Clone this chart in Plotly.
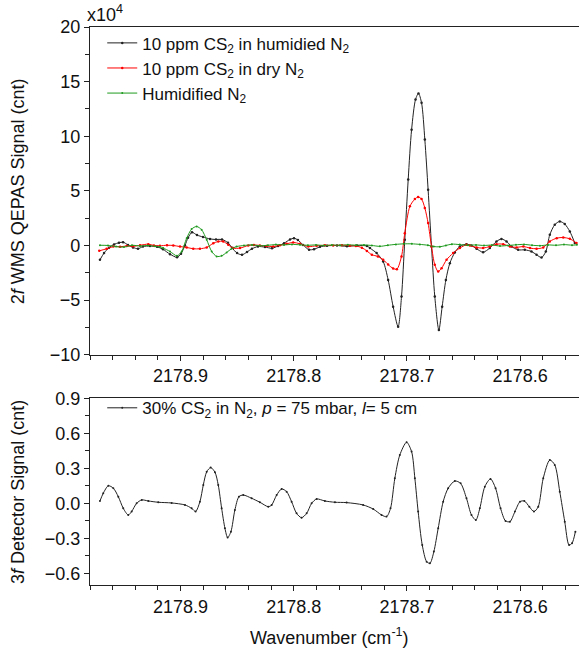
import plotly.graph_objects as go

# ---------------- data ----------------
# Top panel: 2f WMS QEPAS signal (x10^4 cnt)
wn_hum = [2178.9712, 2178.9676, 2178.9632, 2178.9588, 2178.9544, 2178.9508, 2178.9464, 2178.9420,
          2178.9376, 2178.9332, 2178.9270, 2178.9208, 2178.9155, 2178.9093, 2178.9031, 2178.8996,
          2178.8961, 2178.8934, 2178.8899, 2178.8855, 2178.8802, 2178.8740, 2178.8687, 2178.8634,
          2178.8581, 2178.8546, 2178.8501, 2178.8457, 2178.8413, 2178.8369, 2178.8316, 2178.8254,
          2178.8192, 2178.8139, 2178.8086, 2178.8033, 2178.7998, 2178.7963, 2178.7918, 2178.7865,
          2178.7821, 2178.7768, 2178.7706, 2178.7618, 2178.7530, 2178.7441, 2178.7353, 2178.7327,
          2178.7268, 2178.7210, 2178.7166, 2178.7122, 2178.7078, 2178.7048, 2178.7019, 2178.6989,
          2178.6959, 2178.6924, 2178.6898, 2178.6871, 2178.6842, 2178.6813, 2178.6783, 2178.6754,
          2178.6718, 2178.6689, 2178.6656, 2178.6621, 2178.6577, 2178.6533, 2178.6474, 2178.6430,
          2178.6385, 2178.6327, 2178.6268, 2178.6209, 2178.6165, 2178.6120, 2178.6076, 2178.6018,
          2178.5959, 2178.5900, 2178.5855, 2178.5811, 2178.5773, 2178.5738, 2178.5694, 2178.5650,
          2178.5606, 2178.5561, 2178.5517]
sig_hum = [-1.31, -0.70, -0.20, 0.10, 0.25, 0.30, 0.05, -0.18,
           -0.30, -0.10, -0.05, -0.12, -0.35, -0.80, -1.08, -0.75,
           0.00, 0.70, 1.20, 0.95, 0.78, 0.60, 0.55, 0.55,
           0.25, -0.20, -0.70, -0.85, -0.60, -0.30, -0.10, -0.15,
           -0.25, -0.05, 0.20, 0.55, 0.66, 0.50, 0.05, -0.38,
           -0.35, -0.12, -0.03, 0.00, -0.08, 0.00, -0.05, -0.24,
           -0.70, -1.47, -3.15, -5.60, -7.43, -4.68, 0.52, 6.03,
           10.60, 13.37, 13.92, 13.06, 9.70, 5.11, -0.09, -4.68,
           -7.73, -5.60, -3.15, -1.62, -0.64, -0.09, 0.12, 0.00,
           -0.30, -0.61, -0.24, 0.37, 0.59, 0.37, -0.09, -0.40,
           -0.40, -0.55, -0.85, -1.10, -0.55, 0.98, 1.90, 2.20,
           1.96, 1.28, 0.22]

wn_dry = [2178.9718, 2178.9653, 2178.9594, 2178.9535, 2178.9476, 2178.9420, 2178.9358, 2178.9285,
          2178.9235, 2178.9182, 2178.9120, 2178.9064, 2178.9005, 2178.8946, 2178.8888, 2178.8829,
          2178.8769, 2178.8711, 2178.8667, 2178.8623, 2178.8579, 2178.8535, 2178.8475, 2178.8402,
          2178.8352, 2178.8299, 2178.8240, 2178.8181, 2178.8122, 2178.8063, 2178.8005, 2178.7945,
          2178.7872, 2178.7798, 2178.7725, 2178.7652, 2178.7574, 2178.7504, 2178.7451, 2178.7398,
          2178.7354, 2178.7310, 2178.7257, 2178.7210, 2178.7166, 2178.7122, 2178.7089, 2178.7048,
          2178.7019, 2178.6974, 2178.6930, 2178.6901, 2178.6871, 2178.6842, 2178.6813, 2178.6783,
          2178.6754, 2178.6724, 2178.6694, 2178.6650, 2178.6592, 2178.6533, 2178.6474, 2178.6444,
          2178.6385, 2178.6327, 2178.6268, 2178.6209, 2178.6149, 2178.6090, 2178.6031, 2178.5972,
          2178.5913, 2178.5855, 2178.5796, 2178.5738, 2178.5677, 2178.5619, 2178.5561, 2178.5502]
sig_dry = [-0.49, -0.30, -0.10, -0.12, -0.05, -0.08, 0.02, 0.12,
           0.00, -0.03, 0.02, 0.00, -0.10, -0.18, -0.30, -0.30,
           -0.18, 0.20, 0.37, 0.37, 0.06, -0.24, -0.24, 0.00,
           0.05, 0.00, -0.05, -0.10, 0.02, 0.15, 0.28, 0.15,
           -0.10, -0.03, 0.02, 0.00, 0.03, -0.02, -0.05, -0.20,
           -0.50, -0.85, -1.00, -1.30, -1.75, -2.10, -2.17, -1.00,
           1.13, 3.58, 4.25, 4.44, 4.25, 3.43, 2.05, -0.09,
           -1.77, -2.38, -2.08, -1.31, -0.70, -0.24, 0.06, 0.00,
           -0.18, -0.24, -0.09, 0.12, 0.12, -0.09, -0.18, -0.09,
           -0.24, -0.30, -0.18, 0.37, 0.67, 0.73, 0.61, 0.22]

wn_n2 = [2178.9712, 2178.9641, 2178.9570, 2178.9500, 2178.9429, 2178.9358, 2178.9288, 2178.9226,
         2178.9182, 2178.9153, 2178.9093, 2178.9032, 2178.8990, 2178.8946, 2178.8902, 2178.8858,
         2178.8814, 2178.8769, 2178.8725, 2178.8681, 2178.8637, 2178.8593, 2178.8549, 2178.8505,
         2178.8440, 2178.8369, 2178.8299, 2178.8228, 2178.8158, 2178.8086, 2178.8016, 2178.7945,
         2178.7875, 2178.7804, 2178.7734, 2178.7663, 2178.7592, 2178.7522, 2178.7451, 2178.7380,
         2178.7310, 2178.7239, 2178.7169, 2178.7098, 2178.7027, 2178.6957, 2178.6886, 2178.6815,
         2178.6763, 2178.6709, 2178.6656, 2178.6603, 2178.6533, 2178.6461, 2178.6390, 2178.6319,
         2178.6249, 2178.6178, 2178.6107, 2178.6037, 2178.5966, 2178.5895, 2178.5825, 2178.5754,
         2178.5683, 2178.5613, 2178.5542, 2178.5498]
sig_n2 = [0.02, 0.00, -0.10, -0.15, 0.02, -0.05, 0.00, -0.08,
          -0.12, -0.24, -0.55, -0.95, -0.55, 0.67, 1.50, 1.74,
          1.44, 0.52, -0.55, -1.00, -0.95, -0.64, -0.30, -0.10,
          0.00, 0.05, -0.03, 0.02, 0.08, 0.05, 0.10, 0.06,
          0.02, 0.05, 0.00, 0.04, 0.02, 0.06, 0.03, 0.05,
          0.00, -0.08, 0.02, 0.10, 0.15, 0.15, 0.10, 0.02,
          -0.10, -0.12, 0.00, 0.12, 0.08, 0.02, 0.05, 0.00,
          0.04, -0.05, 0.00, 0.06, 0.10, 0.02, -0.02, 0.05,
          0.02, 0.08, 0.03, 0.06]

# Bottom panel: 3f detector signal (cnt)
wn_det = [2178.9712, 2178.9683, 2178.9638, 2178.9594, 2178.9550, 2178.9506, 2178.9462, 2178.9432,
          2178.9388, 2178.9343, 2178.9285, 2178.9197, 2178.9079, 2178.8961, 2178.8902, 2178.8867,
          2178.8829, 2178.8799, 2178.8769, 2178.8734, 2178.8696, 2178.8667, 2178.8637, 2178.8608,
          2178.8584, 2178.8555, 2178.8520, 2178.8484, 2178.8446, 2178.8372, 2178.8299, 2178.8225,
          2178.8195, 2178.8151, 2178.8107, 2178.8063, 2178.8019, 2178.7975, 2178.7931, 2178.7886,
          2178.7842, 2178.7798, 2178.7725, 2178.7636, 2178.7533, 2178.7387, 2178.7298, 2178.7224,
          2178.7180, 2178.7145, 2178.7107, 2178.7063, 2178.7003, 2178.6959, 2178.6930, 2178.6901,
          2178.6865, 2178.6826, 2178.6797, 2178.6762, 2178.6724, 2178.6680, 2178.6636, 2178.6577,
          2178.6526, 2178.6474, 2178.6430, 2178.6391, 2178.6356, 2178.6312, 2178.6262, 2178.6217,
          2178.6173, 2178.6129, 2178.6090, 2178.6046, 2178.6001, 2178.5963, 2178.5919, 2178.5878,
          2178.5840, 2178.5796, 2178.5738, 2178.5694, 2178.5650, 2178.5606, 2178.5568, 2178.5542,
          2178.5512]
sig_det = [0.020, 0.086, 0.150, 0.130, 0.057, -0.043, -0.100, -0.070,
           0.000, 0.029, 0.020, 0.009, 0.003, -0.014, -0.043, -0.070,
           0.014, 0.157, 0.270, 0.306, 0.266, 0.157, -0.043, -0.214,
           -0.294, -0.243, -0.057, 0.057, 0.071, 0.043, 0.009, -0.029,
           -0.014, 0.071, 0.123, 0.100, 0.014, -0.086, -0.123, -0.086,
           0.000, 0.037, 0.020, 0.009, 0.006, -0.014, -0.049, -0.100,
           -0.114, -0.043, 0.214, 0.414, 0.523, 0.443, 0.214, -0.071,
           -0.357, -0.500, -0.514, -0.414, -0.214, 0.014, 0.129, 0.191,
           0.171, 0.043, -0.100, -0.143, -0.043, 0.143, 0.209, 0.129,
           -0.043, -0.151, -0.157, -0.071, 0.014, 0.020, -0.029, -0.071,
           -0.029, 0.214, 0.371, 0.329, 0.100, -0.157, -0.357, -0.343,
           -0.243]

top_names = ["10 ppm CS<sub>2</sub> in humidied N<sub>2</sub>",
             "10 ppm CS<sub>2</sub> in dry N<sub>2</sub>",
             "Humidified N<sub>2</sub>"]
bottom_name = "30% CS<sub>2</sub> in N<sub>2</sub>, <i>p</i> = 75 mbar, <i>l</i>= 5 cm"

# ---------------- figure ----------------
FONT = "Arial, Liberation Sans, sans-serif"
fig = go.Figure()

def add(x, y, name, color, axes, legend, msize):
    fig.add_trace(go.Scatter(
        x=x, y=y, name=name, mode="lines+markers",
        line=dict(color=color, width=1, shape="spline", smoothing=0.8),
        marker=dict(color=color, size=msize),
        xaxis=axes[0], yaxis=axes[1], legend=legend))

add(wn_hum, sig_hum, top_names[0], "#222222", ("x", "y"), "legend", 2.5)
add(wn_dry, sig_dry, top_names[1], "#ff0000", ("x", "y"), "legend", 2.5)
add(wn_n2, sig_n2, top_names[2], "#1f9a1f", ("x", "y"), "legend", 2)
add(wn_det, sig_det, bottom_name, "#222222", ("x2", "y2"), "legend2", 2)

xrange = [2178.98, 2178.548]
axis_common = dict(showline=True, linecolor="#222", linewidth=1.3, ticks="outside",
                   ticklen=5, tickwidth=1.2, tickcolor="#222", showgrid=False, zeroline=False,
                   tickfont=dict(family=FONT, size=18, color="#111"))

fig.update_layout(
    width=579, height=651,
    margin=dict(l=90, r=0, t=27, b=66),
    paper_bgcolor="white", plot_bgcolor="white",
    font=dict(family=FONT, color="#111"),
    xaxis=dict(domain=[0, 1], range=xrange, anchor="y", mirror=True,
               tick0=2178.6, dtick=0.1, tickformat=".1f",
               minor=dict(dtick=0.02, ticklen=4, tickcolor="#222", ticks="outside"),
               **axis_common),
    yaxis=dict(domain=[0.4127, 1], range=[-10, 20], anchor="x",
               tick0=0, dtick=5,
               minor=dict(dtick=2.5, ticklen=4, tickcolor="#222", ticks="outside"),
               **axis_common),
    xaxis2=dict(domain=[0, 1], range=xrange, anchor="y2", mirror=True,
                tick0=2178.6, dtick=0.1, tickformat=".1f",
                minor=dict(dtick=0.02, ticklen=4, tickcolor="#222", ticks="outside"),
                **axis_common),
    yaxis2=dict(domain=[0, 0.3346], range=[-0.7, 0.9], anchor="x2",
                tick0=0, dtick=0.3, tickformat=".1f",
                minor=dict(dtick=0.15, ticklen=4, tickcolor="#222", ticks="outside"),
                **axis_common),
    legend=dict(x=0.025, y=1.003, xanchor="left", yanchor="top",
                bgcolor="rgba(0,0,0,0)", font=dict(family=FONT, size=17, color="#111"),
                itemwidth=30, tracegroupgap=0),
    legend2=dict(x=0.025, y=0.349, xanchor="left", yanchor="top",
                 bgcolor="rgba(0,0,0,0)", font=dict(family=FONT, size=17, color="#111"),
                 itemwidth=30),
    showlegend=True,
)

fig.add_annotation(text="x10<sup>4</sup>", xref="paper", yref="paper", x=-0.01, y=1.0,
                   xanchor="left", yanchor="bottom", showarrow=False,
                   font=dict(family=FONT, size=18, color="#111"))
fig.add_annotation(text="2<i>f </i>WMS QEPAS Signal (cnt)", xref="paper", yref="paper",
                   x=-0.147, y=0.706, textangle=-90, showarrow=False,
                   xanchor="center", yanchor="middle",
                   font=dict(family=FONT, size=18, color="#111"))
fig.add_annotation(text="3<i>f </i>Detector Signal (cnt)", xref="paper", yref="paper",
                   x=-0.147, y=0.167, textangle=-90, showarrow=False,
                   xanchor="center", yanchor="middle",
                   font=dict(family=FONT, size=18, color="#111"))
fig.add_annotation(text="Wavenumber (cm<sup>-1</sup>)", xref="paper", yref="paper",
                   x=0.49, y=-0.093, showarrow=False, xanchor="center", yanchor="middle",
                   font=dict(family=FONT, size=18, color="#111"))

fig.write_html("out.html")
